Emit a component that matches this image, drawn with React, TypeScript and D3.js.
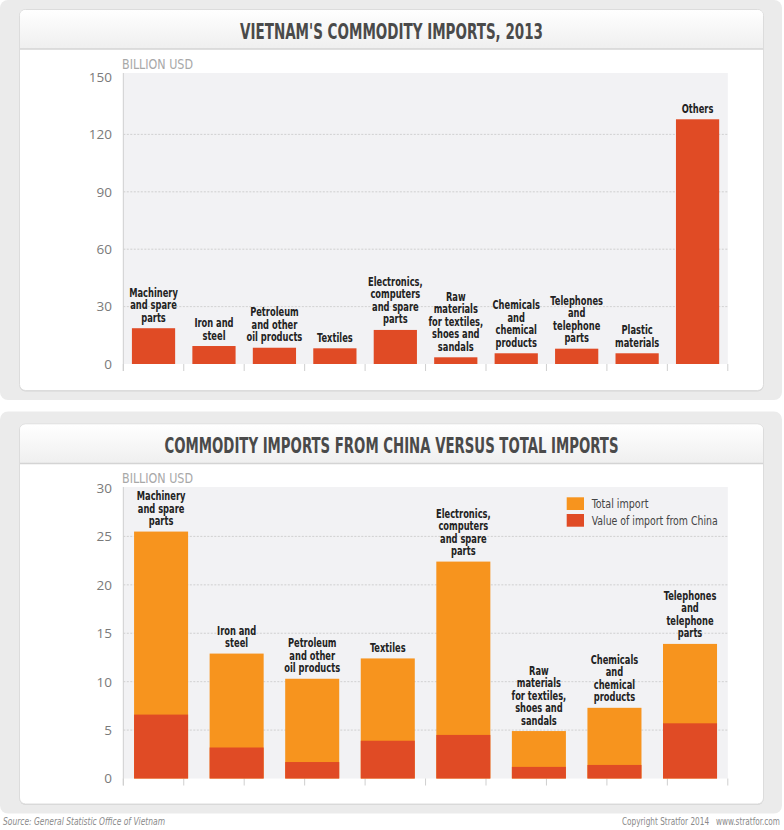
import React from "react";
import * as d3 from "d3";

const topCategories = [
  "Machinery\nand spare\nparts",
  "Iron and\nsteel",
  "Petroleum\nand other\noil products",
  "Textiles",
  "Electronics,\ncomputers\nand spare\nparts",
  "Raw\nmaterials\nfor textiles,\nshoes and\nsandals",
  "Chemicals\nand\nchemical\nproducts",
  "Telephones\nand\ntelephone\nparts",
  "Plastic\nmaterials",
  "Others",
];
const topValues = [18.7, 9.4, 8.5, 8.2, 17.8, 3.5, 5.6, 8.0, 5.6, 127.9];
const topTicks = [0, 30, 60, 90, 120, 150];

const chinaCategories = topCategories.slice(0, 8);
const totalImport = [25.5, 12.9, 10.3, 12.4, 22.4, 4.9, 7.3, 13.9];
const chinaImport = [6.6, 3.2, 1.7, 3.9, 4.5, 1.2, 1.4, 5.7];
const bottomTicks = [0, 5, 10, 15, 20, 25, 30];

const legendLabels = ["Total import", "Value of import from China"];
const title1 = "VIETNAM'S COMMODITY IMPORTS, 2013";
const title2 = "COMMODITY IMPORTS FROM CHINA VERSUS TOTAL IMPORTS";
const unitLabel = "BILLION USD";
const sourceText = "Source: General Statistic Office of Vietnam";
const copyrightText = "Copyright Stratfor 2014   www.stratfor.com";

const RED = "#e04b25";
const ORANGE = "#f7941e";
const COND =
  "'Liberation Sans Narrow','Arial Narrow','DejaVu Sans Condensed','Roboto Condensed',sans-serif";
const REG = "'Open Sans','Liberation Sans',Arial,sans-serif";
const SQUEEZE = 0.74;

const X0 = 123.3;
const X1 = 727.8;

function Card({ y, h, title, tw }: { y: number; h: number; title: string; tw: number }) {
  const id = "g" + Math.round(y);
  return (
    <g>
      <defs>
        <linearGradient id={id} x1="0" y1="0" x2="0" y2="1">
          <stop offset="0" stopColor="#ffffff" />
          <stop offset="1" stopColor="#efefef" />
        </linearGradient>
      </defs>
      <rect x={19.5} y={y + 1} width={744} height={h} rx={6} fill="#d6d6d6" />
      <rect x={19.5} y={y} width={744} height={h} rx={6} fill="#ffffff" stroke="#dcdcdc" strokeWidth={1} />
      <path
        d={`M${20},${y + 39.5} L${20},${y + 6} Q${20},${y + 0.5} ${26},${y + 0.5} L${757},${y + 0.5} Q${763},${y + 0.5} ${763},${y + 6} L${763},${y + 39.5} Z`}
        fill={`url(#${id})`}
      />
      <line x1={20} x2={763} y1={y + 39.5} y2={y + 39.5} stroke="#d4d4d4" strokeWidth={1.5} />
      <text
        x={391.5 - tw / 2}
        y={y + 29}
        textLength={tw}
        lengthAdjust="spacingAndGlyphs"
        fontFamily={COND}
        fontWeight="bold"
        fontSize={21}
        fill="#4a4a4a"
        style={{ fontStretch: "condensed" }}
      >
        {title}
      </text>
    </g>
  );
}

function BarLabel({ x, y, text }: { x: number; y: number; text: string }) {
  const lines = text.split("\n");
  const lh = 12.5;
  return (
    <g transform={`translate(${x},${y}) scale(${SQUEEZE},1)`}>
      <text
        textAnchor="middle"
        fontFamily={COND}
        fontWeight="bold"
        fontSize={12.5}
        fill="#222"
        style={{ fontStretch: "condensed" }}
      >
        {lines.map((l, i) => (
          <tspan key={i} x={0} y={-(lines.length - 1 - i) * lh}>
            {l}
          </tspan>
        ))}
      </text>
    </g>
  );
}

function Axes({
  y,
  ticks,
  yTop,
  tickX,
}: {
  y: d3.ScaleLinear<number, number>;
  ticks: number[];
  yTop: number;
  tickX: number[];
}) {
  const y0 = y(0);
  return (
    <g>
      <rect x={X0} y={yTop} width={X1 - X0} height={y0 - yTop} fill="#f2f2f4" />
      {ticks.map((t) =>
        t > 0 && t < ticks[ticks.length - 1] ? (
          <line
            key={"g" + t}
            x1={X0}
            x2={X1}
            y1={y(t)}
            y2={y(t)}
            stroke="#c8c8c8"
            strokeWidth={0.8}
            strokeDasharray="2,1.5"
          />
        ) : null
      )}
      {ticks.map((t) => (
        <text
          key={"t" + t}
          x={112}
          y={y(t)}
          dy="0.36em"
          textAnchor="end"
          fontFamily={REG}
          fontSize={13.5}
          fill="#7a7a7a"
        >
          {t}
        </text>
      ))}
      <line x1={X0} x2={X0} y1={yTop} y2={y0 + 7} stroke="#cfcfcf" strokeWidth={1} />
      {tickX.map((tx, i) => (
        <line key={"x" + i} x1={tx} x2={tx} y1={y0} y2={y0 + 7} stroke="#cfcfcf" strokeWidth={1} />
      ))}
      <text
        x={122}
        y={yTop - 4}
        textLength={71}
        lengthAdjust="spacingAndGlyphs"
        fontFamily={COND}
        fontSize={14}
        fill="#a8a8a8"
        style={{ fontStretch: "condensed" }}
      >
        {unitLabel}
      </text>
    </g>
  );
}

export default function App() {
  const xTop = d3
    .scaleBand<string>()
    .domain(topCategories)
    .range([X0, X1])
    .paddingInner(0.285)
    .paddingOuter(0.1425);
  const step = xTop.step();
  const tickX = d3.range(topCategories.length + 1).map((i) => X0 + i * step);

  const yTopScale = d3.scaleLinear().domain([0, 150]).range([364, 77]);

  const xBot = d3
    .scaleBand<string>()
    .domain(chinaCategories)
    .range([X0, X1])
    .paddingInner(0.285)
    .paddingOuter(0.1425);
  const yBot = d3.scaleLinear().domain([0, 30]).range([778.5, 488]);

  const legendWidths = [56.7, 126];

  return (
    <div style={{ position: "absolute", left: 0, top: 0 }}>
      <svg width={784} height={830} style={{ display: "block", background: "#fff" }}>
        <rect x={0} y={0} width={782} height={400} rx={8} fill="#ebebeb" />
        <rect x={0} y={411.5} width={782} height={402} rx={8} fill="#ebebeb" />
        <Card y={9.5} h={381} title={title1} tw={303} />
        <Card y={424} h={380} title={title2} tw={454} />

        <Axes y={yTopScale} ticks={topTicks} yTop={73} tickX={tickX} />
        {topCategories.map((c, i) => {
          const x = xTop(c)!;
          const v = topValues[i];
          return (
            <g key={c}>
              <rect x={x} y={yTopScale(v)} width={xTop.bandwidth()} height={yTopScale(0) - yTopScale(v)} fill={RED} />
              <BarLabel x={x + xTop.bandwidth() / 2} y={yTopScale(v) - 6.5} text={c} />
            </g>
          );
        })}

        <Axes y={yBot} ticks={bottomTicks} yTop={487} tickX={tickX} />
        {chinaCategories.map((c, i) => {
          const x = xBot(c)!;
          const t = totalImport[i];
          const ch = chinaImport[i];
          return (
            <g key={c}>
              <rect x={x} y={yBot(t)} width={xBot.bandwidth()} height={yBot(0) - yBot(t)} fill={ORANGE} />
              <rect x={x} y={yBot(ch)} width={xBot.bandwidth()} height={yBot(0) - yBot(ch)} fill={RED} />
              <BarLabel x={x + xBot.bandwidth() / 2} y={yBot(t) - 6.5} text={c} />
            </g>
          );
        })}

        {legendLabels.map((l, i) => (
          <g key={l}>
            <rect x={566.7} y={497.3 + i * 16.7} width={17.3} height={12.7} fill={i === 0 ? ORANGE : RED} />
            <text
              x={591.7}
              y={503.7 + i * 16.7}
              dy="0.35em"
              textLength={legendWidths[i]}
              lengthAdjust="spacingAndGlyphs"
              fontFamily={COND}
              fontSize={12}
              fill="#444"
              style={{ fontStretch: "condensed" }}
            >
              {l}
            </text>
          </g>
        ))}

        <text
          x={3}
          y={825}
          textLength={162}
          lengthAdjust="spacingAndGlyphs"
          fontFamily={COND}
          fontStyle="italic"
          fontSize={10.5}
          fill="#8a8a8a"
          style={{ fontStretch: "condensed" }}
        >
          {sourceText}
        </text>
        <text
          x={622}
          y={825}
          textLength={158}
          lengthAdjust="spacingAndGlyphs"
          fontFamily={COND}
          fontSize={10.5}
          fill="#8a8a8a"
          style={{ fontStretch: "condensed", whiteSpace: "pre" }}
        >
          {copyrightText}
        </text>
      </svg>
    </div>
  );
}
